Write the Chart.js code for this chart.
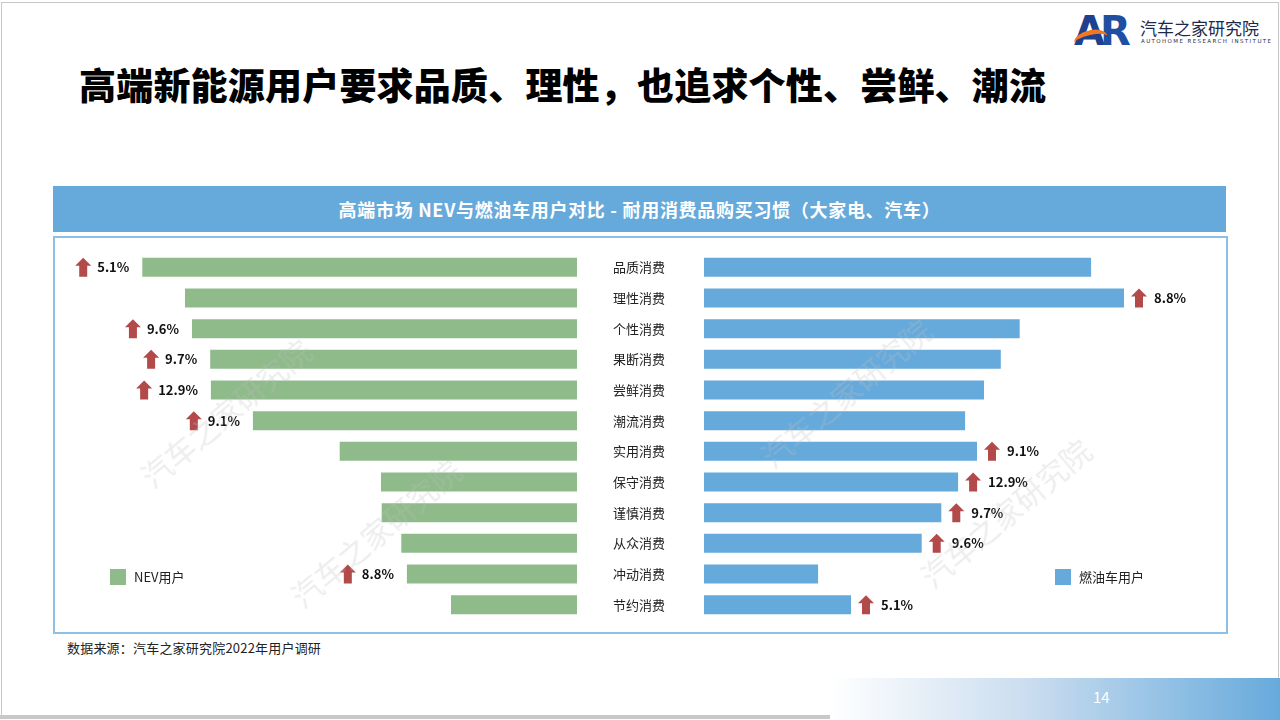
<!DOCTYPE html>
<html>
<head>
<meta charset="utf-8">
<script src="https://cdn.jsdelivr.net/npm/chart.js@4"></script>
<style>
  body { margin: 0; width: 1280px; height: 720px; position: relative; background: #fff; overflow: hidden;
         font-family: "Noto Sans CJK SC", "Noto Sans", sans-serif; }
  .abs { position: absolute; }
  #frame { left: 1px; top: 2px; width: 1276px; height: 714px; border: 1px solid #c8c8c8; border-bottom: none; }
  #shadow { left: 0; top: 715px; width: 830px; height: 4px; background: #c8c8c8; }
  #title { left: 79px; top: 57px; font-size: 37px; font-weight: 900; color: #000; letter-spacing: 0.2px; white-space: nowrap; }
  #header { left: 53px; top: 186px; width: 1173px; height: 46px; background: #66aadc; color: #fff;
            font-size: 18px; font-weight: 700; text-align: center; line-height: 46px; letter-spacing: 0.7px; }
  #box { left: 53px; top: 236px; width: 1171px; height: 394px; border: 2px solid #8cc0e6; }
  #left { left: 73px; top: 252px; width: 504px; height: 368px; }
  #right { left: 613px; top: 252px; width: 595px; height: 368px; }
  .leg { font-size: 13px; color: #222; white-space: nowrap; }
  .leg i { display: inline-block; width: 16px; height: 16px; vertical-align: -3px; margin-right: 8px; }
  #source { left: 67px; top: 638px; font-size: 13px; color: #222; letter-spacing: 0.2px; }
  #footer { left: 830px; top: 678px; width: 450px; height: 42px;
            background: linear-gradient(to right, #ffffff 0%, #c9dcef 45%, #66aadc 100%); }
  #page { left: 1093px; top: 686px; font-size: 15px; color: #fff; }
  .wm { font-size: 30px; color: rgba(190,190,190,0.28); transform: rotate(-40deg); white-space: nowrap; pointer-events: none; }
  #logoA { left: 1074px; top: 8px; font-size: 40px; font-weight: 900; font-family: "DejaVu Sans", sans-serif; color: #1f3f8f; letter-spacing: -6px; }
  #logoR { left: 1100px; top: 8px; font-size: 40px; font-weight: 900; font-family: "DejaVu Sans", sans-serif; color: #1f4fa0; }
  #swoosh { left: 1074px; top: 30px; width: 34px; height: 14px; border-top: 5px solid #f07820; border-radius: 50% 50% 0 0; transform: rotate(-12deg); }
  #logoT { left: 1140px; top: 15px; font-size: 17px; color: #1d2a4a; white-space: nowrap; }
  #logoS { left: 1141px; top: 38px; font-size: 5.5px; color: #1d2a4a; letter-spacing: 1.4px; white-space: nowrap; font-family: "DejaVu Sans", sans-serif; }
</style>
</head>
<body>
<div id="frame" class="abs"></div>
<div id="shadow" class="abs"></div>

<div id="logoA" class="abs">A</div>
<div id="logoR" class="abs">R</div>
<div id="swoosh" class="abs"></div>
<div id="logoT" class="abs">汽车之家研究院</div>
<div id="logoS" class="abs">AUTOHOME RESEARCH INSTITUTE</div>

<div id="title" class="abs">高端新能源用户要求品质、理性，也追求个性、尝鲜、潮流</div>
<div id="header" class="abs">高端市场 NEV与燃油车用户对比 - 耐用消费品购买习惯（大家电、汽车）</div>
<div id="box" class="abs"></div>

<div class="abs" id="left"><canvas id="leftChart"></canvas></div>
<div class="abs" id="right"><canvas id="rightChart"></canvas></div>

<div class="abs leg" style="left:110px; top:567px;"><i style="background:#8fbb8b"></i>NEV用户</div>
<div class="abs leg" style="left:1055px; top:567px;"><i style="background:#66aadc"></i>燃油车用户</div>

<div class="abs wm" style="left:120px; top:390px;">汽车之家研究院</div>
<div class="abs wm" style="left:270px; top:510px;">汽车之家研究院</div>
<div class="abs wm" style="left:740px; top:370px;">汽车之家研究院</div>
<div class="abs wm" style="left:900px; top:490px;">汽车之家研究院</div>

<div id="source" class="abs">数据来源：汽车之家研究院2022年用户调研</div>
<div id="footer" class="abs"></div>
<div id="page" class="abs">14</div>

<script>
// rows top to bottom
const categories = ["品质消费", "理性消费", "个性消费", "果断消费", "尝鲜消费", "潮流消费",
                    "实用消费", "保守消费", "谨慎消费", "从众消费", "冲动消费", "节约消费"];
// no axis in the source, so these are relative bar lengths
const nevValues = [62.1, 56.0, 55.0, 52.4, 52.3, 46.3, 33.9, 28.0, 27.9, 25.1, 24.3, 18.0];
const iceValues = [55.3, 60.0, 45.1, 42.4, 40.0, 37.3, 39.0, 36.3, 33.9, 31.1, 16.3, 21.0];
// "higher by" callouts next to the bars
const nevLift = ["5.1%", "", "9.6%", "9.7%", "12.9%", "9.1%", "", "", "", "", "8.8%", ""];
const iceLift = ["", "8.8%", "", "", "", "", "9.1%", "12.9%", "9.7%", "9.6%", "", "5.1%"];

const X_MAX = 72;
const GREEN = "#8fbb8b";
const BLUE = "#66aadc";
const ARROW = "#b24a4a";

function drawArrow(ctx, cx, cy) {
  // up arrow, 16 wide, 19 tall
  ctx.fillStyle = ARROW;
  ctx.beginPath();
  ctx.moveTo(cx, cy - 9.5);
  ctx.lineTo(cx + 8, cy - 1.5);
  ctx.lineTo(cx + 4, cy - 1.5);
  ctx.lineTo(cx + 4, cy + 9.5);
  ctx.lineTo(cx - 4, cy + 9.5);
  ctx.lineTo(cx - 4, cy - 1.5);
  ctx.lineTo(cx - 8, cy - 1.5);
  ctx.closePath();
  ctx.fill();
}

// callout: arrow + percentage at the free end of each flagged bar
function liftPlugin(labels, side) {
  return {
    id: "lift",
    afterDatasetsDraw(chart) {
      const ctx = chart.ctx;
      const meta = chart.getDatasetMeta(0);
      ctx.save();
      ctx.font = "bold 13px 'Noto Sans CJK SC', 'Noto Sans', sans-serif";
      ctx.textBaseline = "middle";
      meta.data.forEach((bar, i) => {
        const txt = labels[i];
        if (!txt) return;
        const w = ctx.measureText(txt).width;
        if (side === "left") {
          const right = bar.x - 13;
          ctx.fillStyle = "#111";
          ctx.textAlign = "right";
          ctx.fillText(txt, right, bar.y);
          drawArrow(ctx, right - w - 14, bar.y);
        } else {
          drawArrow(ctx, bar.x + 15, bar.y);
          ctx.fillStyle = "#111";
          ctx.textAlign = "left";
          ctx.fillText(txt, bar.x + 30, bar.y);
        }
      });
      ctx.restore();
    },
  };
}

Chart.defaults.animation = false;
Chart.defaults.maintainAspectRatio = false;
Chart.defaults.plugins.legend.display = false;
Chart.defaults.plugins.tooltip.enabled = false;

new Chart(document.getElementById("leftChart"), {
  type: "bar",
  data: {
    labels: categories,
    datasets: [{ data: nevValues, backgroundColor: GREEN, borderWidth: 0,
                 categoryPercentage: 1, barPercentage: 0.62 }],
  },
  options: {
    indexAxis: "y",
    layout: { padding: 0 },
    scales: {
      x: { display: false, reverse: true, min: 0, max: X_MAX },
      y: { display: false },
    },
  },
  plugins: [liftPlugin(nevLift, "left")],
});

new Chart(document.getElementById("rightChart"), {
  type: "bar",
  data: {
    labels: categories,
    datasets: [{ data: iceValues, backgroundColor: BLUE, borderWidth: 0,
                 categoryPercentage: 1, barPercentage: 0.62 }],
  },
  options: {
    indexAxis: "y",
    layout: { padding: 0 },
    scales: {
      x: { display: false, min: 0, max: X_MAX },
      y: {
        grid: { display: false, drawTicks: false },
        border: { display: false },
        ticks: { padding: 0, crossAlign: "far", color: "#222",
                 font: { size: 13, family: "'Noto Sans CJK SC', 'Noto Sans', sans-serif" } },
        // labels sit flush left in a fixed 91px gutter; no extra top/bottom padding
        afterFit(scale) {
          scale.width = 91;
          scale.paddingTop = 0;
          scale.paddingBottom = 0;
        },
      },
    },
  },
  plugins: [liftPlugin(iceLift, "right")],
});
</script>
</body>
</html>
